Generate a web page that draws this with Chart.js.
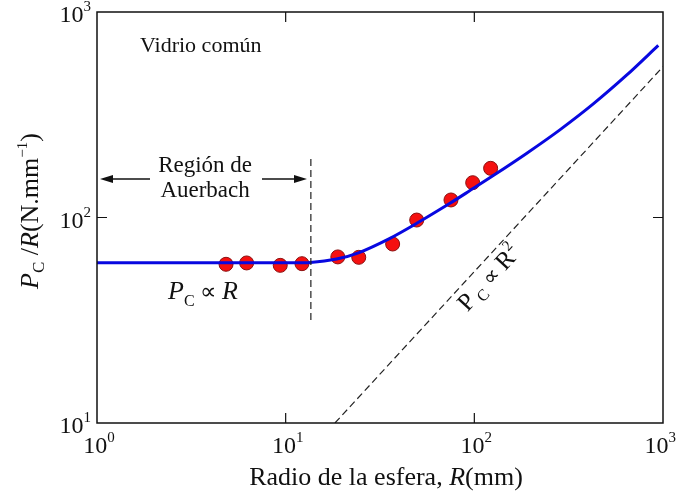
<!DOCTYPE html>
<html>
<head>
<meta charset="utf-8">
<script src="https://cdn.jsdelivr.net/npm/chart.js@4"></script>
<style>
  body { margin: 0; background: #fff; }
  canvas { display: block; }
</style>
</head>
<body>
<canvas id="chart" width="678" height="496"></canvas>
<script>
// measured points (sphere radius mm, Pc/R N/mm)
const radius = [4.83, 6.21, 9.36, 12.2, 18.9, 24.4, 36.9, 49.5, 75.2, 98, 122];
const ratio = [59.2, 60.1, 58.5, 59.6, 64.3, 64.0, 74.3, 97.2, 121.7, 147.7, 173.5];

// fitted curve
const fitR = [1, 10.5, 13.5, 18.6, 24.3, 35.7, 49.5, 74.3, 94.8, 126, 189, 284, 427, 641, 944];
const fitRatio = [60.2, 60.2, 60.4, 62.8, 67.3, 79.2, 93.7, 117.3, 135.2, 159.9, 204.9, 266.9, 356.9, 492.4, 688];

// Pc ~ R^2 guide and Auerbach limit
const squareR = [18.25, 1000];
const squareRatio = [10, 542];
const limitR = [13.6, 13.6];
const limitRatio = [31.7, 197];

const xDecades = [1, 10, 100, 1000];
const xExp = ['0', '1', '2', '3'];
const yDecades = [10, 100, 1000];
const yExp = ['1', '2', '3'];

const SERIF = '"Liberation Serif", "Times New Roman", serif';

function pts(xs, ys) {
  return xs.map((x, i) => ({ x: x, y: ys[i] }));
}

function font(size, italic) {
  return (italic ? 'italic ' : '') + size + 'px ' + SERIF;
}

// draw a row of text pieces (italic / sub / sup) starting or centred at x
function drawRuns(ctx, runs, x, y, align, maxRight) {
  let w = 0;
  runs.forEach(r => {
    ctx.font = font(r.size, r.italic);
    r.w = ctx.measureText(r.t).width;
    w += r.w;
  });
  let cx = align === 'center' ? x - w / 2 : (align === 'right' ? x - w : x);
  if (maxRight && cx + w > maxRight) cx = maxRight - w;
  ctx.textAlign = 'left';
  ctx.textBaseline = 'alphabetic';
  runs.forEach(r => {
    ctx.font = font(r.size, r.italic);
    ctx.fillText(r.t, cx, y + (r.dy || 0));
    cx += r.w;
  });
}

function pow10(exp) {
  return [{ t: '10', size: 24 }, { t: exp, size: 15, dy: -11 }];
}

function arrow(ctx, x1, y1, x2, y2) {
  const a = Math.atan2(y2 - y1, x2 - x1);
  const len = 13, half = 4;
  ctx.beginPath();
  ctx.moveTo(x1, y1);
  ctx.lineTo(x2 - len * Math.cos(a), y2 - len * Math.sin(a));
  ctx.stroke();
  ctx.beginPath();
  ctx.moveTo(x2, y2);
  ctx.lineTo(x2 - len * Math.cos(a) + half * Math.sin(a), y2 - len * Math.sin(a) - half * Math.cos(a));
  ctx.lineTo(x2 - len * Math.cos(a) - half * Math.sin(a), y2 - len * Math.sin(a) + half * Math.cos(a));
  ctx.closePath();
  ctx.fill();
}

const decorations = {
  id: 'decorations',
  afterDatasetsDraw(chart) {
    const ctx = chart.ctx;
    const area = chart.chartArea;
    const xs = chart.scales.x, ys = chart.scales.y;
    const px = v => xs.getPixelForValue(v);
    const py = v => ys.getPixelForValue(v);

    ctx.save();
    ctx.strokeStyle = '#111';
    ctx.fillStyle = '#111';

    // frame
    ctx.lineWidth = 1.5;
    ctx.strokeRect(area.left, area.top, area.right - area.left, area.bottom - area.top);

    // inner ticks on all four sides
    ctx.lineWidth = 1.2;
    ctx.beginPath();
    [10, 100].forEach(v => {
      const x = px(v), y = py(v);
      ctx.moveTo(x, area.bottom); ctx.lineTo(x, area.bottom - 10);
      ctx.moveTo(x, area.top); ctx.lineTo(x, area.top + 10);
      if (v === 100) {
        ctx.moveTo(area.left, y); ctx.lineTo(area.left + 10, y);
        ctx.moveTo(area.right, y); ctx.lineTo(area.right - 10, y);
      }
    });
    ctx.stroke();

    // tick labels
    xDecades.forEach((v, i) => {
      drawRuns(ctx, pow10(xExp[i]), px(v) + 2, area.bottom + 30, 'center', chart.width - 2);
    });
    yDecades.forEach((v, i) => {
      drawRuns(ctx, pow10(yExp[i]), area.left - 6, py(v) + 10, 'right');
    });

    // axis titles
    drawRuns(ctx, [
      { t: 'Radio de la esfera, ', size: 26 },
      { t: 'R', size: 26, italic: true },
      { t: '(mm)', size: 26 }
    ], 386, 485, 'center');

    ctx.save();
    ctx.translate(29, 211);
    ctx.rotate(-Math.PI / 2);
    drawRuns(ctx, [
      { t: 'P', size: 26, italic: true },
      { t: 'C', size: 17, dy: 6 },
      { t: ' /', size: 26 },
      { t: 'R', size: 26, italic: true },
      { t: '(N.mm', size: 26 },
      { t: '\u22121', size: 15, dy: -11 },
      { t: ')', size: 26 }
    ], 0, 9, 'center');
    ctx.restore();

    // annotations
    drawRuns(ctx, [{ t: 'Vidrio común', size: 22 }], px(1.69), py(691) + 7, 'left');
    drawRuns(ctx, [{ t: 'Región de', size: 23 }], px(3.74), py(180) + 7, 'center');
    drawRuns(ctx, [{ t: 'Auerbach', size: 23 }], px(3.74), py(136) + 7, 'center');
    drawRuns(ctx, [
      { t: 'P', size: 26, italic: true },
      { t: 'C', size: 16, dy: 7 },
      { t: ' \u221D ', size: 23 },
      { t: 'R', size: 26, italic: true }
    ], px(2.38), py(44.4) + 9, 'left');

    ctx.save();
    ctx.translate(px(118), py(51.3));
    ctx.rotate(-Math.atan2(py(10) - py(100), px(100) - px(10)));
    drawRuns(ctx, [
      { t: 'P', size: 25 },
      { t: ' C', size: 16, dy: 5 },
      { t: ' \u221D ', size: 22 },
      { t: 'R', size: 25 },
      { t: '2', size: 15, dy: -11 }
    ], 0, 9, 'center');
    ctx.restore();

    // Auerbach arrows
    ctx.lineWidth = 1.3;
    arrow(ctx, px(1.91), py(153.9), px(1.037), py(153.9));
    arrow(ctx, px(7.49), py(153.9), px(12.97), py(153.9));

    ctx.restore();
  }
};

const config = {
  type: 'scatter',
  data: {
    datasets: [
      {
        label: 'limit',
        data: pts(limitR, limitRatio),
        showLine: true,
        borderColor: '#222',
        borderWidth: 1.2,
        borderDash: [7, 4],
        pointRadius: 0
      },
      {
        label: 'square',
        data: pts(squareR, squareRatio),
        showLine: true,
        borderColor: '#222',
        borderWidth: 1.2,
        borderDash: [7, 4],
        pointRadius: 0
      },
      {
        label: 'fit',
        data: pts(fitR, fitRatio),
        showLine: true,
        borderColor: '#0808e0',
        borderWidth: 3,
        tension: 0.3,
        pointRadius: 0
      },
      {
        label: 'measured',
        data: pts(radius, ratio),
        backgroundColor: '#f51010',
        borderColor: '#8a1010',
        borderWidth: 1,
        pointRadius: 7
      }
    ]
  },
  options: {
    responsive: false,
    animation: false,
    devicePixelRatio: 1,
    layout: { padding: { top: 12, right: 15, left: 0, bottom: 0 } },
    plugins: {
      legend: { display: false },
      tooltip: { enabled: false }
    },
    scales: {
      x: {
        type: 'logarithmic',
        min: 1,
        max: 1000,
        grid: { display: false },
        border: { display: false },
        ticks: { display: false },
        afterBuildTicks: s => { s.ticks = xDecades.map(v => ({ value: v })); },
        afterFit: s => { s.height = 73; }
      },
      y: {
        type: 'logarithmic',
        min: 10,
        max: 1000,
        grid: { display: false },
        border: { display: false },
        ticks: { display: false },
        afterBuildTicks: s => { s.ticks = yDecades.map(v => ({ value: v })); },
        afterFit: s => { s.width = 97; }
      }
    }
  },
  plugins: [decorations]
};

new Chart(document.getElementById('chart'), config);
</script>
</body>
</html>
